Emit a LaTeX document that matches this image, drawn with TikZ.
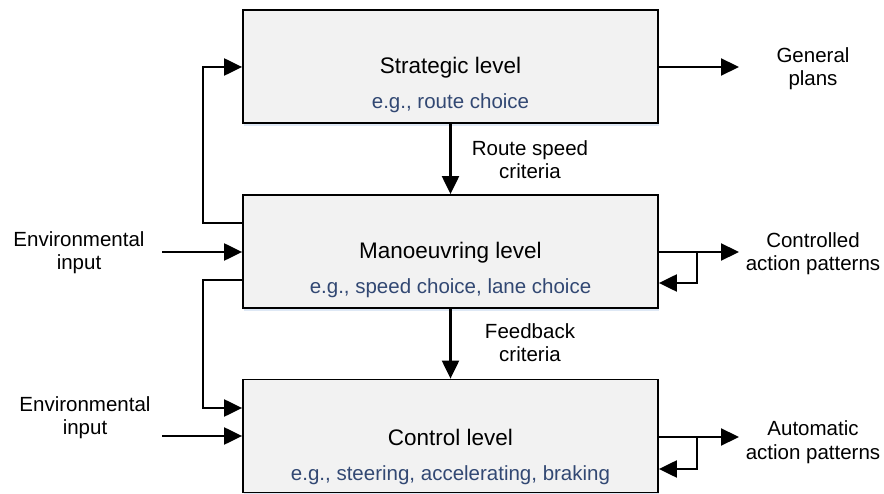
\documentclass[tikz,border=0pt]{standalone}
\usepackage{fontspec}
\setmainfont{Liberation Sans}
\usetikzlibrary{arrows.meta,shadows}
\definecolor{boxfill}{RGB}{242,242,242}
\definecolor{egblue}{RGB}{50,72,115}
\definecolor{shade}{RGB}{214,226,243}
\tikzset{
  levelbox/.style={draw=black, line width=1.8pt, fill=boxfill,
    minimum width=415pt, minimum height=113pt, inner sep=0pt,
    drop shadow={shadow xshift=1pt, shadow yshift=-3pt, fill=shade, opacity=0.8}},
  title/.style={font=\fontsize{22.5}{26}\selectfont, anchor=base, inner sep=0pt},
  example/.style={font=\fontsize{20.5}{24}\selectfont, text=egblue, anchor=base, inner sep=0pt},
  lbl/.style={font=\fontsize{20.5}{23.5}\selectfont, align=center, anchor=base, inner sep=0pt},
  flow/.style={line width=2.2pt, -{Triangle[length=18pt,width=17pt]}}
}
\begin{document}
\begin{tikzpicture}[x=1pt,y=-1pt]
\useasboundingbox (0,0) rectangle (884,494);

% the three levels
\node[levelbox] (S) at (450.5,66.5) {};
\node[levelbox] (M) at (450.5,251.5) {};
\node[levelbox] (C) at (450.5,436) {};

\node[title]   (St) at (450.5,74)  {Strategic level};
\node[example] (Se) at (450.5,109) {e.g., route choice};
\node[title]   (Mt) at (450.5,259) {Manoeuvring level};
\node[example] (Me) at (450.5,294) {e.g., speed choice, lane choice};
\node[title]   (Ct) at (450.5,446) {Control level};
\node[example] (Ce) at (450.5,480) {e.g., steering, accelerating, braking};

% downward links between levels (labels are anchored on their last line)
\draw[flow] (S.south) -- (M.north);
\draw[flow] (M.south) -- (C.north);
\node[lbl] (rsc) at (530,179) {Route speed\\criteria};
\node[lbl] (fbc) at (530,362) {Feedback\\criteria};

% feedback loops on the left
\coordinate (l1a) at (203,223);
\coordinate (l1b) at (203,67);
\draw[flow] (M.west |- l1a) -- (l1a) -- (l1b) -- (S.west |- l1b);
\coordinate (l2a) at (203,280);
\coordinate (l2b) at (203,408);
\draw[flow] (M.west |- l2a) -- (l2a) -- (l2b) -- (C.west |- l2b);

% environmental inputs
\coordinate (e1) at (162,252);
\coordinate (e2) at (162,436);
\draw[flow] (e1) -- (M.west |- e1);
\draw[flow] (e2) -- (C.west |- e2);
\node[lbl] (env1) at (79,270) {Environmental\\input};
\node[lbl] (env2) at (85,435) {Environmental\\input};

% outputs on the right
\coordinate (o1) at (739,67);
\draw[flow] (S.east |- o1) -- (o1);
\node[lbl] (gp) at (813,86) {General\\plans};

\coordinate (o2) at (739,252);
\coordinate (b2) at (697,252);
\coordinate (r2) at (697,283);
\draw[flow] (M.east |- o2) -- (o2);
\draw[flow] (b2) -- (r2) -- (M.east |- r2);
\node[lbl] (cap) at (813,271) {Controlled\\action patterns};

\coordinate (o3) at (739,437);
\coordinate (b3) at (697,437);
\coordinate (r3) at (697,469);
\draw[flow] (C.east |- o3) -- (o3);
\draw[flow] (b3) -- (r3) -- (C.east |- r3);
\node[lbl] (aap) at (813,459) {Automatic\\action patterns};
\end{tikzpicture}
\end{document}
